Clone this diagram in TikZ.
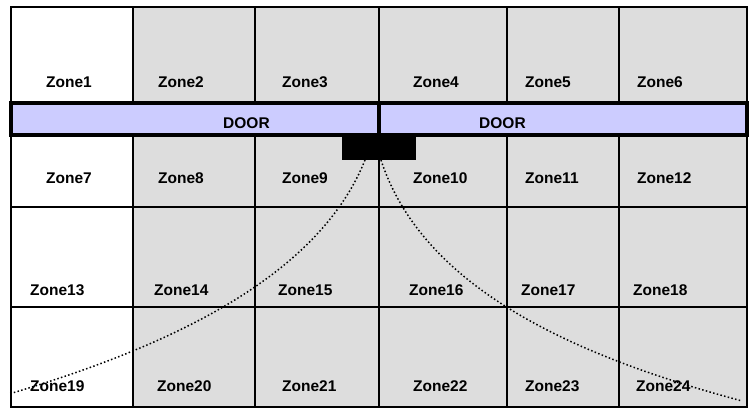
\documentclass[tikz,border=0pt]{standalone}
\usepackage{fontspec}
\setmainfont{Liberation Sans}
\usetikzlibrary{positioning}
\definecolor{grisz}{HTML}{DDDDDD}
\definecolor{lila}{HTML}{CCCCFF}
\tikzset{
  zona/.style={rectangle, draw=black, line width=1.5pt, fill=white, inner sep=0pt, outer sep=0pt},
  zonag/.style={zona, fill=grisz},
  fila1/.style={minimum height=96pt},
  fila2/.style={minimum height=72pt},
  fila3/.style={minimum height=100pt},
  txt/.style={anchor=base west, inner sep=0pt, font=\fontsize{15.5}{18}\selectfont\bfseries},
  puerta/.style={rectangle, draw=black, line width=4pt, fill=lila, inner sep=0pt, outer sep=0pt,
                 minimum width=368pt, minimum height=32pt},
  bloque/.style={rectangle, fill=black, inner sep=0pt, outer sep=0pt, minimum width=74pt, minimum height=25pt},
  curva/.style={line width=1.5pt, dash pattern=on 1.5pt off 2.3pt}
}
\begin{document}
\begin{tikzpicture}[x=1pt, y=-1pt]
  \useasboundingbox (0,0) rectangle (755,410);
  % fila 1
  \node (z1) [zona, fila1, anchor=north west, minimum width=122pt] at (11,7) {};
  \node (z2) [zonag, fila1, right=0pt of z1, minimum width=122pt] {};
  \node (z3) [zonag, fila1, right=0pt of z2, minimum width=124pt] {};
  \node (z4) [zonag, fila1, right=0pt of z3, minimum width=128pt] {};
  \node (z5) [zonag, fila1, right=0pt of z4, minimum width=112pt] {};
  \node (z6) [zonag, fila1, right=0pt of z5, minimum width=128pt] {};
  % fila 2
  \node (z7) [zona, fila2, below=32pt of z1, minimum width=122pt] {};
  \node (z8) [zonag, fila2, right=0pt of z7, minimum width=122pt] {};
  \node (z9) [zonag, fila2, right=0pt of z8, minimum width=124pt] {};
  \node (z10) [zonag, fila2, right=0pt of z9, minimum width=128pt] {};
  \node (z11) [zonag, fila2, right=0pt of z10, minimum width=112pt] {};
  \node (z12) [zonag, fila2, right=0pt of z11, minimum width=128pt] {};
  % fila 3
  \node (z13) [zona, fila3, below=0pt of z7, minimum width=122pt] {};
  \node (z14) [zonag, fila3, right=0pt of z13, minimum width=122pt] {};
  \node (z15) [zonag, fila3, right=0pt of z14, minimum width=124pt] {};
  \node (z16) [zonag, fila3, right=0pt of z15, minimum width=128pt] {};
  \node (z17) [zonag, fila3, right=0pt of z16, minimum width=112pt] {};
  \node (z18) [zonag, fila3, right=0pt of z17, minimum width=128pt] {};
  % fila 4
  \node (z19) [zona, fila3, below=0pt of z13, minimum width=122pt] {};
  \node (z20) [zonag, fila3, right=0pt of z19, minimum width=122pt] {};
  \node (z21) [zonag, fila3, right=0pt of z20, minimum width=124pt] {};
  \node (z22) [zonag, fila3, right=0pt of z21, minimum width=128pt] {};
  \node (z23) [zonag, fila3, right=0pt of z22, minimum width=112pt] {};
  \node (z24) [zonag, fila3, right=0pt of z23, minimum width=128pt] {};
  % puertas
  \node (door1) [puerta, anchor=south west] at (z7.north west) {};
  \node (door2) [puerta, right=0pt of door1] {};
  \node (bloq) [bloque, below=0pt of door1.south east] {};
  \node (tdoor1) [txt] at (223,128) {DOOR};
  \node (tdoor2) [txt] at (479,128) {DOOR};
  % textos
  \node (t1) [txt] at (46,87) {Zone1};
  \node (t2) [txt] at (158,87) {Zone2};
  \node (t3) [txt] at (282,87) {Zone3};
  \node (t4) [txt] at (413,87) {Zone4};
  \node (t5) [txt] at (525,87) {Zone5};
  \node (t6) [txt] at (637,87) {Zone6};
  \node (t7) [txt] at (46,183) {Zone7};
  \node (t8) [txt] at (158,183) {Zone8};
  \node (t9) [txt] at (282,183) {Zone9};
  \node (t10) [txt] at (413,183) {Zone10};
  \node (t11) [txt] at (525,183) {Zone11};
  \node (t12) [txt] at (637,183) {Zone12};
  \node (t13) [txt] at (30,295) {Zone13};
  \node (t14) [txt] at (154,295) {Zone14};
  \node (t15) [txt] at (278,295) {Zone15};
  \node (t16) [txt] at (409,295) {Zone16};
  \node (t17) [txt] at (521,295) {Zone17};
  \node (t18) [txt] at (633,295) {Zone18};
  \node (t19) [txt] at (30,391) {Zone19};
  \node (t20) [txt] at (157,391) {Zone20};
  \node (t21) [txt] at (282,391) {Zone21};
  \node (t22) [txt] at (413,391) {Zone22};
  \node (t23) [txt] at (525,391) {Zone23};
  \node (t24) [txt] at (636,391) {Zone24};
  % curvas
  \coordinate (ci) at (365,160);
  \coordinate (cd) at (381,160);
  \coordinate (fi) at (9,394);
  \coordinate (fd) at (742,401);
  \draw [curva] (ci) .. controls (315,285) and (150,352) .. (fi);
  \draw [curva] (cd) .. controls (425,295) and (590,360) .. (fd);
\end{tikzpicture}
\end{document}
